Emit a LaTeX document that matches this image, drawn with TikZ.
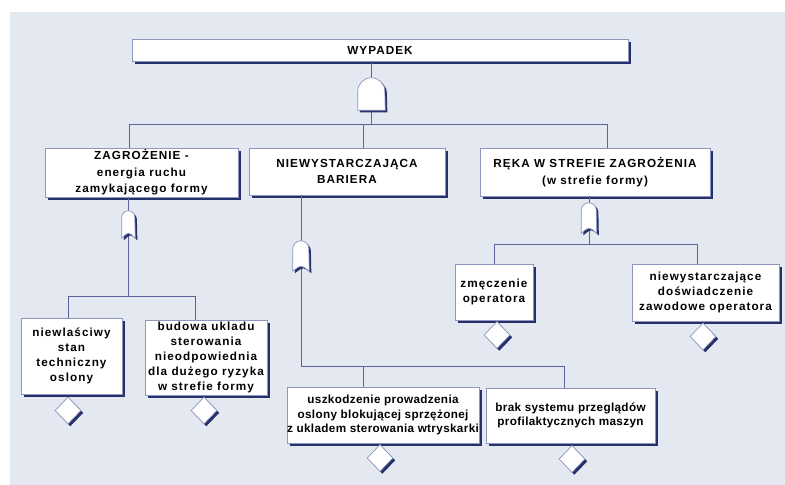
\documentclass[tikz,border=0pt]{standalone}
\usepackage{fontspec}
\setmainfont{Liberation Sans}
\newfontfamily\treefont{Liberation Sans}[LetterSpace=9]
\newfontfamily\treefontn{Liberation Sans}[LetterSpace=3]
\usepackage{tikz}
\usepackage{xcolor}
\usetikzlibrary{shapes}
\usetikzlibrary{shadows}
\usetikzlibrary{positioning}

\definecolor{bgblue}{HTML}{E3E8F1}
\definecolor{wireblue}{HTML}{5C6398}
\definecolor{edgeblue}{HTML}{8E96BE}
\definecolor{shadeblue}{HTML}{26306A}

% AND gate outline on an empty node: #1 node, #2 half width
\newcommand{\andgate}[2]{%
  \path[gate] (#1.south west) -- ([yshift=-#2]#1.north west)
    arc[start angle=180,end angle=0,radius=#2] -- (#1.south east) -- cycle;}
% narrow gate with a curved foot
\newcommand{\orgate}[2]{%
  \path[gate] (#1.south west) -- ([yshift=-#2]#1.north west)
    arc[start angle=180,end angle=0,radius=#2] -- (#1.south east)
    .. controls ([yshift=0.2cm]#1.south) .. (#1.south west) -- cycle;}

\begin{document}
\begin{tikzpicture}[x=0.03cm,y=-0.03cm]
	\tikzstyle{box}=[rectangle,draw=edgeblue,line width=0.6pt,fill=white,inner sep=0pt,align=center,
	  font=\treefont\bfseries\fontsize{10}{13}\selectfont,
	  drop shadow={opacity=1,fill=shadeblue,shadow xshift=2.4pt,shadow yshift=-2.4pt}]
	\tikzstyle{topbox}=[box,font=\treefont\bfseries\fontsize{10}{14}\selectfont]
	\tikzstyle{lowbox}=[box,font=\treefontn\bfseries\fontsize{10}{12.5}\selectfont]
	\tikzstyle{gate}=[draw=edgeblue,line width=0.6pt,fill=white,
	  drop shadow={opacity=1,fill=shadeblue,shadow xshift=1.8pt,shadow yshift=-1.8pt}]
	\tikzstyle{basic}=[diamond,draw=edgeblue,line width=0.6pt,fill=white,inner sep=0pt,
	  minimum width=0.78cm,minimum height=0.81cm,
	  drop shadow={opacity=1,fill=shadeblue,shadow xshift=2pt,shadow yshift=-2pt}]
	\tikzstyle{gatebox}=[inner sep=0pt]
	\tikzstyle{wire}=[draw=wireblue,line width=0.8pt]

	\useasboundingbox (0,0) rectangle (785,485);
	\fill[bgblue] (10,12) rectangle (785,485);

	% events
	\node [topbox,minimum width=14.88cm,minimum height=0.66cm] (top) at (380,50) {WYPADEK};
	\node [topbox,minimum width=5.79cm,minimum height=1.47cm] (zagr) at (141.5,172.5)
	  {ZAGROŻENIE -\\energia ruchu\\zamykającego formy};
	\node [topbox,minimum width=5.88cm,minimum height=1.41cm] (bariera) at (347,171.5)
	  {NIEWYSTARCZAJĄCA\\BARIERA};
	\node [topbox,minimum width=6.9cm,minimum height=1.44cm] (reka) at (595,172)
	  {RĘKA W STREFIE ZAGROŻENIA\\(w strefie formy)};
	\node [box,minimum width=3.03cm,minimum height=2.28cm] (stan) at (71.5,356)
	  {niewlaściwy\\stan\\techniczny\\oslony};
	\node [box,minimum width=3.66cm,minimum height=2.25cm] (budowa) at (206,357.5)
	  {budowa ukladu\\sterowania\\nieodpowiednia\\dla dużego ryzyka\\w strefie formy};
	\node [box,minimum width=2.34cm,minimum height=1.68cm] (zmecz) at (494,292)
	  {zmęczenie\\operatora};
	\node [box,minimum width=4.41cm,minimum height=1.71cm] (dosw) at (705.5,292.5)
	  {niewystarczające\\doświadczenie\\zawodowe operatora};
	\node [lowbox,minimum width=5.76cm,minimum height=1.68cm] (uszk) at (383,415)
	  {uszkodzenie prowadzenia\\oslony blokującej sprzężonej\\z ukladem sterowania wtryskarki};
	\node [lowbox,minimum width=5.07cm,minimum height=1.65cm] (brak) at (570.5,415.5)
	  {brak systemu przeglądów\\profilaktycznych maszyn};

	% gates
	\node [gatebox,minimum width=0.81cm,minimum height=0.96cm] (g0) at (371.5,94) {};
	\node [gatebox,minimum width=0.39cm,minimum height=0.81cm] (g1) at (128.5,224.5) {};
	\node [gatebox,minimum width=0.48cm,minimum height=0.9cm] (g2) at (301,256) {};
	\node [gatebox,minimum width=0.45cm,minimum height=0.9cm] (g3) at (589,218) {};

	% basic events
	\node [basic] (d1) at (68,410.5) {};
	\node [basic] (d2) at (204,410.5) {};
	\node [basic] (d3) at (497,335) {};
	\node [basic] (d4) at (703,336.5) {};
	\node [basic] (d5) at (380,458) {};
	\node [basic] (d6) at (572,459) {};

	\coordinate (t1) at (129,124);
	\coordinate (t2) at (363,124);
	\coordinate (t3) at (607,124);
	\coordinate (s1) at (68,296);
	\coordinate (s2) at (195,296);
	\coordinate (u1) at (363,366);
	\coordinate (u2) at (564,366);
	\coordinate (r1) at (494,244);
	\coordinate (r2) at (697,244);

	\path[wire] (g0.center) -- (g0.center |- top.south);
	\path[wire] (g0.center) -- (g0.center |- t1);
	\path[wire] (zagr.north -| t1) |- (t3) -- (reka.north -| t3);
	\path[wire] (t2) -- (bariera.north -| t2);
	\path[wire] (g1.center) -- (g1.center |- zagr.south);
	\path[wire] (g1.center) -- (g1.center |- s1);
	\path[wire] (stan.north -| s1) |- (s2) -- (budowa.north -| s2);
	\path[wire] (g2.center) -- (g2.center |- bariera.south);
	\path[wire] (g2.center) |- (u2) -- (brak.north -| u2);
	\path[wire] (u1) -- (uszk.north -| u1);
	\path[wire] (g3.center) -- (g3.center |- reka.south);
	\path[wire] (g3.center) -- (g3.center |- r1);
	\path[wire] (zmecz.north -| r1) |- (r2) -- (dosw.north -| r2);

	\andgate{g0}{0.405cm}
	\orgate{g1}{0.195cm}
	\orgate{g2}{0.24cm}
	\orgate{g3}{0.225cm}

\end{tikzpicture}
\end{document}
